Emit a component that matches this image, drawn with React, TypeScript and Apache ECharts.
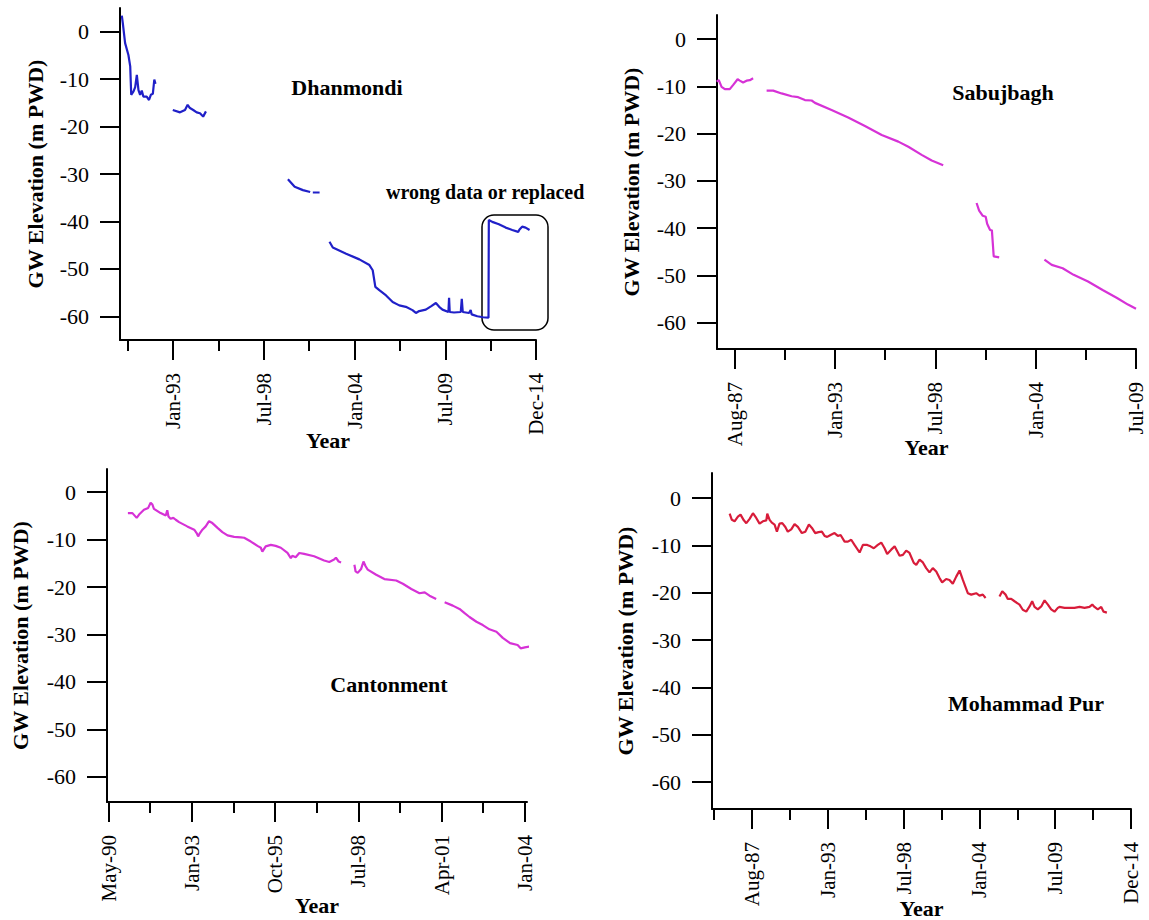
import React, { useEffect, useRef } from 'react';
import * as echarts from 'echarts';

const FONT = "'Liberation Serif', 'Times New Roman', serif";

// ---- Data (decimal year, GW elevation m PWD); null = gap ----
const dhanmondiData: [number, number | null][] = [
  [1989.89, 3.4], [1989.95, 1.8], [1990.09, -2.4], [1990.29, -4.9], [1990.4, -7.3], [1990.46, -13.3],
  [1990.6, -12.6], [1990.7, -11.7], [1990.8, -9.1], [1990.9, -12.3], [1991.0, -13.3], [1991.1, -12.4],
  [1991.2, -13.7], [1991.4, -13.7], [1991.54, -14.4], [1991.65, -13.3], [1991.77, -13.1], [1991.86, -10.1],
  [1991.93, -11.0], [1992.4, null],
  [1992.98, -16.5], [1993.42, -17.0], [1993.72, -16.5], [1993.88, -15.4], [1994.02, -16.1], [1994.22, -16.5],
  [1994.43, -17.0], [1994.63, -17.2], [1994.82, -17.9], [1994.99, -16.8], [1997.0, null],
  [1999.96, -31.1], [2000.37, -32.7], [2000.87, -33.4], [2001.31, -33.8], [2001.4, null],
  [2001.47, -33.9], [2001.88, -33.9], [2002.2, null],
  [2002.48, -44.3], [2002.68, -45.5], [2003.49, -46.8], [2004.29, -48.0], [2004.9, -49.2], [2005.1, -50.3],
  [2005.26, -53.8], [2005.5, -54.5], [2005.91, -55.6], [2006.31, -57.0], [2006.71, -57.7], [2007.11, -58.0],
  [2007.51, -58.7], [2007.72, -59.3], [2007.92, -58.9], [2008.32, -58.6], [2008.63, -57.9], [2008.93, -57.2],
  [2009.13, -58.0], [2009.33, -58.6], [2009.69, -59.1], [2009.73, -56.1], [2009.77, -59.1], [2010.03, -59.2],
  [2010.44, -59.1], [2010.5, -56.3], [2010.56, -59.1], [2010.94, -59.3], [2011.04, -58.7], [2011.1, -59.6],
  [2011.44, -60.0], [2011.79, -60.2], [2012.12, -60.3], [2012.14, -39.7], [2012.35, -40.1], [2012.75, -40.6],
  [2013.16, -41.3], [2013.56, -41.8], [2013.92, -42.2], [2014.0, -41.7], [2014.16, -41.1], [2014.37, -41.3],
  [2014.61, -41.8],
];

const sabujbaghData: [number, number | null][] = [
  [1986.51, -9.0], [1986.63, -8.7], [1986.78, -10.1], [1986.96, -10.6], [1987.23, -10.6], [1987.42, -9.7],
  [1987.66, -8.5], [1987.78, -8.8], [1987.96, -9.2], [1988.15, -8.8], [1988.33, -8.7], [1988.51, -8.3],
  [1988.9, null],
  [1989.25, -10.9], [1989.61, -10.9], [1990.07, -11.5], [1990.62, -12.1], [1990.98, -12.3], [1991.35, -12.9],
  [1991.72, -13.0], [1991.9, -13.5], [1992.81, -15.0], [1993.72, -16.6], [1994.64, -18.4], [1995.56, -20.3],
  [1996.47, -21.7], [1997.02, -22.8], [1997.75, -24.5], [1998.3, -25.7], [1998.93, -26.7], [1999.8, null],
  [2000.76, -34.7], [2000.9, -36.3], [2001.1, -37.4], [2001.26, -37.6], [2001.34, -39.1], [2001.5, -40.4],
  [2001.6, -40.5], [2001.7, -46.0], [2002.0, -46.2], [2003.2, null],
  [2004.48, -46.7], [2004.88, -47.8], [2005.48, -48.5], [2006.08, -49.9], [2006.87, -51.3], [2007.67, -53.1],
  [2008.46, -54.8], [2009.06, -56.2], [2009.5, -57.1],
];

const cantonmentData: [number, number | null][] = [
  [1990.89, -4.4], [1991.04, -4.4], [1991.18, -5.4], [1991.26, -4.7], [1991.42, -3.7], [1991.56, -3.3],
  [1991.64, -2.2], [1991.7, -2.6], [1991.75, -3.5], [1991.97, -4.4], [1992.14, -4.9], [1992.19, -3.8],
  [1992.23, -5.1], [1992.3, -5.6], [1992.39, -5.4], [1992.47, -5.8], [1992.58, -6.3], [1992.85, -7.2],
  [1993.08, -7.9], [1993.16, -8.6], [1993.21, -9.3], [1993.27, -8.6], [1993.35, -7.9], [1993.46, -7.2],
  [1993.57, -6.1], [1993.68, -6.5], [1993.85, -7.5], [1994.01, -8.4], [1994.18, -9.1], [1994.4, -9.4],
  [1994.62, -9.5], [1994.73, -9.6], [1994.95, -10.4], [1995.17, -11.3], [1995.28, -11.7], [1995.33, -12.5],
  [1995.44, -11.4], [1995.61, -11.1], [1995.77, -11.3], [1995.94, -11.7], [1996.16, -12.8], [1996.27, -13.9],
  [1996.32, -13.4], [1996.43, -13.7], [1996.55, -12.8], [1996.71, -13.0], [1997.04, -13.5], [1997.37, -14.4],
  [1997.54, -14.7], [1997.7, -14.2], [1997.76, -13.8], [1997.85, -14.6], [1997.93, -14.8], [1998.15, null],
  [1998.37, -15.3], [1998.41, -16.7], [1998.48, -17.0], [1998.59, -16.2], [1998.67, -14.6], [1998.74, -15.6],
  [1998.81, -16.3], [1999.09, -17.4], [1999.36, -18.3], [1999.75, -18.6], [1999.97, -19.3], [2000.25, -20.4],
  [2000.52, -21.3], [2000.69, -21.1], [2000.85, -21.8], [2001.07, -22.5], [2001.2, null],
  [2001.35, -23.2], [2001.62, -23.9], [2001.84, -24.6], [2002.01, -25.5], [2002.17, -26.3], [2002.4, -27.3],
  [2002.61, -28.0], [2002.83, -28.9], [2003.06, -29.4], [2003.27, -30.7], [2003.51, -31.8], [2003.76, -32.2],
  [2003.86, -32.9], [2004.0, -32.7], [2004.19, -32.5],
];

const mohammadPurData: [number, number | null][] = [
  [1985.88, -3.3], [1986.04, -4.6], [1986.24, -4.9], [1986.48, -3.9], [1986.67, -3.5], [1986.91, -4.7],
  [1987.09, -5.3], [1987.33, -4.4], [1987.57, -3.2], [1987.81, -4.2], [1988.05, -5.4], [1988.29, -4.9],
  [1988.54, -4.7], [1988.61, -3.3], [1988.78, -4.6], [1988.94, -5.2], [1989.14, -5.6], [1989.31, -7.1],
  [1989.5, -5.4], [1989.7, -5.3], [1989.92, -6.1], [1990.1, -7.1], [1990.35, -6.6], [1990.59, -5.5],
  [1990.83, -6.1], [1991.12, -7.4], [1991.37, -7.1], [1991.63, -5.6], [1991.85, -6.3], [1992.09, -7.4],
  [1992.33, -7.2], [1992.57, -7.1], [1992.77, -8.0], [1992.96, -8.2], [1993.2, -7.8], [1993.49, -7.4],
  [1993.73, -8.0], [1993.93, -7.8], [1994.22, -9.2], [1994.46, -9.2], [1994.7, -8.8], [1994.94, -9.9],
  [1995.31, -11.5], [1995.55, -9.9], [1995.86, -9.9], [1996.1, -10.2], [1996.34, -10.6], [1996.63, -9.9],
  [1996.88, -9.4], [1997.12, -10.6], [1997.31, -11.8], [1997.6, -10.9], [1997.85, -10.2], [1998.21, -12.2],
  [1998.45, -12.0], [1998.69, -11.1], [1998.93, -11.6], [1999.24, -13.7], [1999.42, -14.1], [1999.66, -13.0],
  [1999.9, -13.6], [2000.14, -14.8], [2000.38, -15.7], [2000.62, -14.8], [2000.87, -15.5], [2001.11, -16.9],
  [2001.3, -17.8], [2001.59, -17.1], [2001.83, -17.3], [2002.07, -18.1], [2002.32, -16.6], [2002.56, -15.3],
  [2002.8, -17.3], [2003.16, -20.1], [2003.41, -20.4], [2003.77, -20.1], [2004.01, -20.6], [2004.25, -20.4],
  [2004.45, -21.1], [2004.7, null], [2004.95, -21.3], [2005.0, -21.3], [2005.2, null],
  [2005.46, -20.8], [2005.66, -19.7], [2005.9, -20.4], [2006.06, -21.3], [2006.31, -21.3], [2006.55, -21.8],
  [2006.91, -22.5], [2007.15, -23.6], [2007.4, -24.0], [2007.64, -22.9], [2007.83, -21.8], [2008.0, -23.0],
  [2008.24, -23.5], [2008.49, -22.9], [2008.73, -21.6], [2008.97, -22.5], [2009.21, -23.5], [2009.45, -24.0],
  [2009.69, -23.2], [2009.81, -23.0], [2010.18, -23.2], [2010.54, -23.2], [2010.9, -23.2], [2011.27, -23.0],
  [2011.63, -23.2], [2011.99, -23.0], [2012.19, -22.5], [2012.35, -23.0], [2012.59, -23.5], [2012.84, -23.0],
  [2013.01, -24.0], [2013.25, -24.2],
];

// ---- Tick values / labels ----
const yTicks = [-60, -50, -40, -30, -20, -10, 0];

const dhanmondiMajor = [1993, 1998.5, 2004, 2009.5, 2015];
const dhanmondiLabels = ['Jan-93', 'Jul-98', 'Jan-04', 'Jul-09', 'Dec-14'];
const dhanmondiMinor = [1990.25, 1995.75, 2001.25, 2006.75, 2012.25];

const sabujbaghMajor = [1987.5, 1993, 1998.5, 2004, 2009.5];
const sabujbaghLabels = ['Aug-87', 'Jan-93', 'Jul-98', 'Jan-04', 'Jul-09'];
const sabujbaghMinor = [1990.25, 1995.75, 2001.25, 2006.75];

const cantonmentMajor = [1990.25, 1993, 1995.75, 1998.5, 2001.25, 2004];
const cantonmentLabels = ['May-90', 'Jan-93', 'Oct-95', 'Jul-98', 'Apr-01', 'Jan-04'];
const cantonmentMinor = [1991.625, 1994.375, 1997.125, 1999.875, 2002.625];

const mohammadMajor = [1987.5, 1993, 1998.5, 2004, 2009.5, 2015];
const mohammadLabels = ['Aug-87', 'Jan-93', 'Jul-98', 'Jan-04', 'Jul-09', 'Dec-14'];
const mohammadMinor = [1984.75, 1990.25, 1995.75, 2001.25, 2006.75, 2012.25];

const toSeries = (d: [number, number | null][]) => d.map(([x, y]) => [x, y === null ? '-' : y]);

type Panel = {
  grid: { left: number; top: number; width: number; height: number };
  xMin: number; xMax: number; yMin: number; yMax: number;
  major: number[]; labels: string[]; minor: number[];
  data: [number, number | null][]; color: string;
  yNameGap: number; xNameGap: number;
};

const panels: Panel[] = [
  {
    grid: { left: 120, top: 8, width: 416, height: 332 },
    xMin: 1989.78, xMax: 2015, yMin: -65, yMax: 5,
    major: dhanmondiMajor, labels: dhanmondiLabels, minor: dhanmondiMinor,
    data: dhanmondiData, color: '#2020c8', yNameGap: 74, xNameGap: 89,
  },
  {
    grid: { left: 717, top: 15, width: 419, height: 334 },
    xMin: 1986.53, xMax: 2009.5, yMin: -65.6, yMax: 5.1,
    major: sabujbaghMajor, labels: sabujbaghLabels, minor: sabujbaghMinor,
    data: sabujbaghData, color: '#d632d6', yNameGap: 75, xNameGap: 87,
  },
  {
    grid: { left: 107, top: 469, width: 420, height: 333 },
    xMin: 1990.2, xMax: 2004.07, yMin: -65.3, yMax: 4.9,
    major: cantonmentMajor, labels: cantonmentLabels, minor: cantonmentMinor,
    data: cantonmentData, color: '#d632d6', yNameGap: 76, xNameGap: 92,
  },
  {
    grid: { left: 712, top: 473, width: 419, height: 336 },
    xMin: 1984.6, xMax: 2015, yMin: -65.7, yMax: 5.3,
    major: mohammadMajor, labels: mohammadLabels, minor: mohammadMinor,
    data: mohammadPurData, color: '#d81c3a', yNameGap: 76, xNameGap: 88,
  },
];

const AXIS = { color: '#000', width: 2 };

export default function App() {
  const ref = useRef<HTMLDivElement>(null);
  useEffect(() => {
    if (!ref.current) return;
    const chart = echarts.init(ref.current, null, { renderer: 'svg' });
    const grids: any[] = [];
    const xAxes: any[] = [];
    const yAxes: any[] = [];
    const series: any[] = [];
    panels.forEach((p, i) => {
      grids.push({ ...p.grid, containLabel: false, outerBoundsMode: 'none' });
      xAxes.push({
        type: 'value', gridIndex: i, min: p.xMin, max: p.xMax, position: 'bottom',
        name: 'Year', nameLocation: 'middle', nameGap: p.xNameGap, nameMoveOverlap: false,
        nameTextStyle: { fontFamily: FONT, fontSize: 22, fontWeight: 'bold', color: '#000', verticalAlign: 'top' },
        axisLine: { show: true, onZero: false, lineStyle: AXIS },
        axisTick: { show: true, customValues: p.major, length: 20, lineStyle: AXIS },
        axisLabel: {
          show: true, customValues: p.major, rotate: 90, margin: 33,
          fontFamily: FONT, fontSize: 21, color: '#000',
          formatter: (v: number) => {
            const k = p.major.findIndex((m) => Math.abs(m - v) < 1e-6);
            return k >= 0 ? p.labels[k] : '';
          },
        },
        splitLine: { show: false },
      });
      xAxes.push({
        type: 'value', gridIndex: i, min: p.xMin, max: p.xMax, position: 'bottom',
        axisLine: { show: false, onZero: false },
        axisTick: { show: true, customValues: p.minor, length: 11, lineStyle: AXIS },
        axisLabel: { show: false },
        splitLine: { show: false },
      });
      yAxes.push({
        type: 'value', gridIndex: i, min: p.yMin, max: p.yMax,
        name: 'GW Elevation (m PWD)', nameLocation: 'middle', nameGap: p.yNameGap, nameRotate: 90,
        nameMoveOverlap: false,
        nameTextStyle: { fontFamily: FONT, fontSize: 22, fontWeight: 'bold', color: '#000' },
        axisLine: { show: true, onZero: false, lineStyle: AXIS },
        axisTick: { show: true, customValues: yTicks, length: 20, lineStyle: AXIS },
        axisLabel: { show: true, customValues: yTicks, margin: 31, fontFamily: FONT, fontSize: 22, color: '#000' },
        splitLine: { show: false },
      });
      series.push({
        type: 'line', xAxisIndex: i * 2, yAxisIndex: i, data: toSeries(p.data),
        showSymbol: false, symbol: 'none', connectNulls: false, clip: false,
        lineStyle: { color: p.color, width: 2.2 }, itemStyle: { color: p.color },
      });
    });

    const label = (text: string, x: number, y: number, size = 22, align = 'center') => ({
      type: 'text', x, y,
      style: { text, fontFamily: FONT, fontSize: size, fontWeight: 'bold', fill: '#000', align, verticalAlign: 'middle' },
    });

    chart.setOption({
      animation: false,
      backgroundColor: '#fff',
      grid: grids,
      xAxis: xAxes,
      yAxis: yAxes,
      series,
      graphic: [
        label('Dhanmondi', 347, 87),
        label('wrong data or replaced', 386, 192, 20, 'left'),
        {
          type: 'rect',
          shape: { x: 482, y: 215, width: 66, height: 115, r: 12 },
          style: { fill: 'none', stroke: '#000', lineWidth: 1.5 },
        },
        label('Sabujbagh', 1003, 92),
        label('Cantonment', 389, 684),
        label('Mohammad Pur', 1026, 703),
      ],
    });
    return () => chart.dispose();
  }, []);
  return <div ref={ref} style={{ position: 'absolute', left: 0, top: 0, width: 1149, height: 920, background: '#fff' }} />;
}
